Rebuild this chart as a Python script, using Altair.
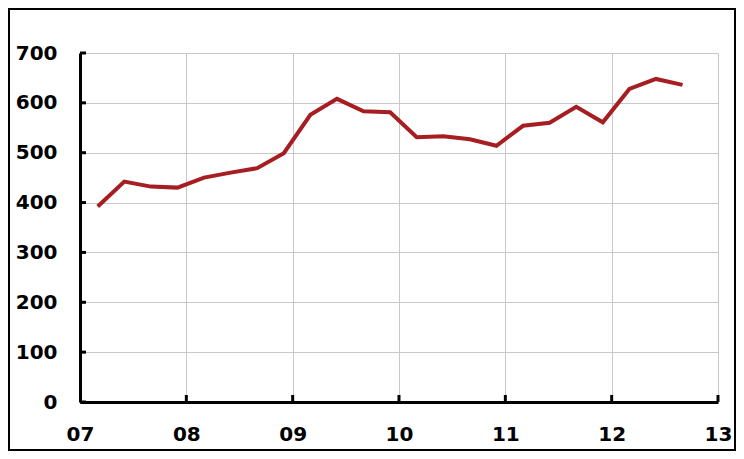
import altair as alt
import pandas as pd

# quarterly observations (fractional year, 07 = 2007)
years = [7 + (2 + 3 * i) / 12 for i in range(23)]
values = [392, 442, 432, 430, 450, 460, 469, 499, 576, 608, 583, 581,
          531, 533, 527, 514, 554, 560, 592, 561, 628, 648, 636]
x_ticks = [7, 8, 9, 10, 11, 12, 13]
y_ticks = [0, 100, 200, 300, 400, 500, 600, 700]

W, H = 638, 349
PL, PT, PR, PB = 72, 45, 18, 49
df = pd.DataFrame({"year": years, "value": values})

xscale = alt.Scale(domain=[7, 13], nice=False, zero=False)
yscale = alt.Scale(domain=[0, 700], nice=False)

line = alt.Chart(df).mark_line(color="#A61E22", strokeWidth=4, strokeJoin="miter").encode(
    x=alt.X("year:Q", scale=xscale,
            axis=alt.Axis(values=x_ticks, title=None, grid=True, gridColor="#C8C8C8",
                          gridWidth=1, domainColor="black", domainWidth=3, ticks=False,
                          tickSize=0, labelPadding=22, labelFlush=False,
                          labelExpr="datum.value < 10 ? '0' + datum.value : '' + datum.value",
                          labelFont="DejaVu Sans", labelFontSize=20, labelFontWeight="bold",
                          labelColor="black")),
    y=alt.Y("value:Q", scale=yscale,
            axis=alt.Axis(values=y_ticks, title=None, grid=True, gridColor="#C8C8C8",
                          gridWidth=1, domainColor="black", domainWidth=3, ticks=False,
                          tickSize=0, labelPadding=23, labelFlush=False,
                          labelFont="DejaVu Sans", labelFontSize=20, labelFontWeight="bold",
                          labelColor="black")),
)

yt = alt.Chart(pd.DataFrame({"v": y_ticks})).mark_rule(color="black", strokeWidth=3).encode(
    y=alt.Y("v:Q", scale=yscale), x=alt.value(0), x2=alt.value(6))
xt = alt.Chart(pd.DataFrame({"t": x_ticks[1:]})).mark_rule(color="black", strokeWidth=3).encode(
    x=alt.X("t:Q", scale=xscale), y=alt.value(H), y2=alt.value(H - 7))

frame = alt.Chart(pd.DataFrame({"f": [0]})).mark_rect(
    fill=None, stroke="black", strokeWidth=2).encode(
    x=alt.value(-PL + 1), x2=alt.value(W + PR - 1), y=alt.value(-PT + 1), y2=alt.value(H + PB - 1))

chart = alt.layer(line, yt, xt, frame).properties(
    width=W, height=H,
    padding={"left": PL, "top": PT, "right": PR, "bottom": PB},
    autosize=alt.AutoSizeParams(type="none"),
).configure_view(stroke=None)

chart.save("out.html", embed_options={"renderer": "svg", "actions": False})
